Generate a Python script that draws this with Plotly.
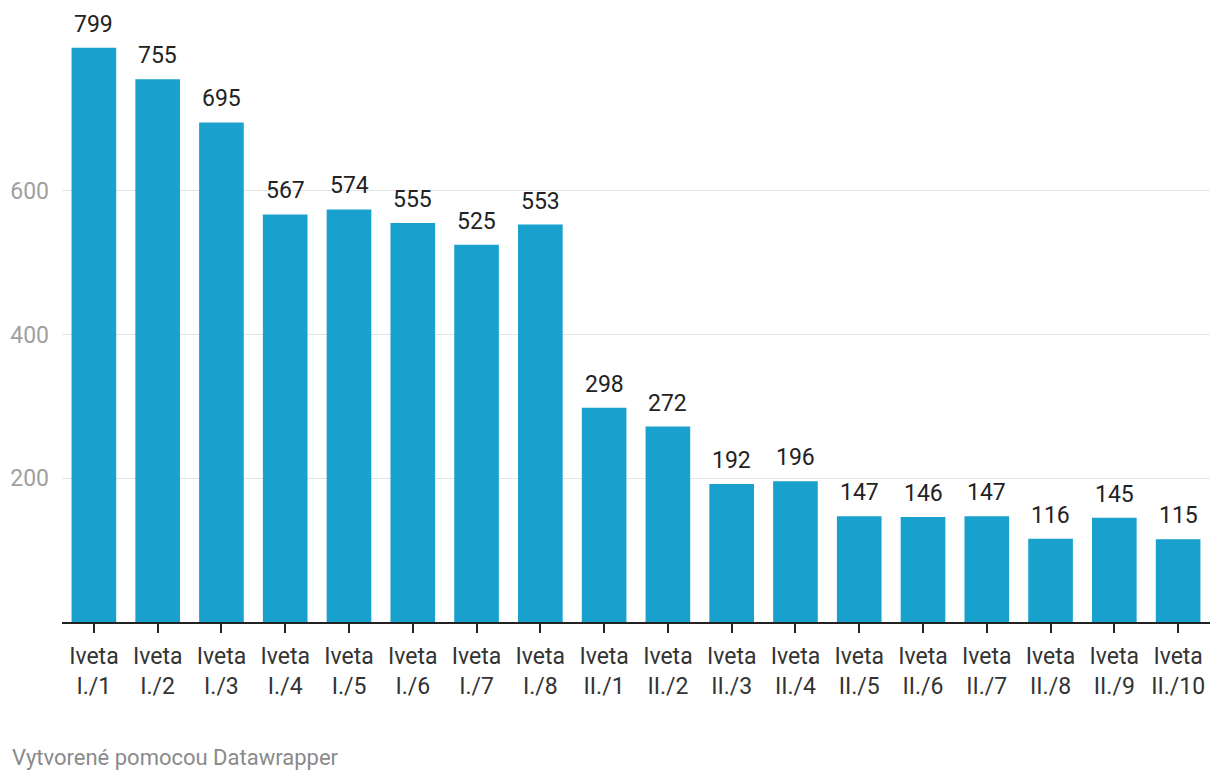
import plotly.graph_objects as go

groups = ["I.", "I.", "I.", "I.", "I.", "I.", "I.", "I.",
          "II.", "II.", "II.", "II.", "II.", "II.", "II.", "II.", "II.", "II."]
numbers = [1, 2, 3, 4, 5, 6, 7, 8, 1, 2, 3, 4, 5, 6, 7, 8, 9, 10]
values = [799, 755, 695, 567, 574, 555, 525, 553, 298, 272, 192, 196, 147, 146, 147, 116, 145, 115]
categories = [f"Iveta<br>{g}/{n}" for g, n in zip(groups, numbers)]
y_ticks = [200, 400, 600]

W, H = 1220, 780
L, R, T, B = 62, 10, 47, 158

fig = go.Figure(go.Bar(
    x=categories, y=values,
    marker=dict(color="#18a1cd", line=dict(width=0)),
    hoverinfo="x+y",
))

annotations = [dict(
    x=c, y=v, xref="x", yref="y", text=str(v), showarrow=False,
    yanchor="bottom", yshift=8,
    font=dict(family="Roboto", size=23, color="#222222"),
) for c, v in zip(categories, values)]

annotations.append(dict(
    text="Vytvorené pomocou Datawrapper",
    x=(10 - L) / (W - L - R), y=(H - B - 757) / (H - T - B),
    xref="paper", yref="paper", showarrow=False, xanchor="left", yanchor="middle",
    font=dict(family="Roboto", size=22, color="#8a8a8a"),
))

fig.update_layout(
    width=W, height=H,
    margin=dict(l=L, r=R, t=T, b=B, autoexpand=False),
    paper_bgcolor="white", plot_bgcolor="white",
    bargap=0.3, showlegend=False,
    font=dict(family="Roboto", size=23, color="#333333"),
    xaxis=dict(
        showgrid=False, showline=True, linecolor="#222222", linewidth=2,
        ticks="outside", ticklen=9, tickwidth=2, tickcolor="#222222",
        tickfont=dict(family="Roboto", size=23, color="#333333"),
        ticklabelstandoff=3,
    ),
    yaxis=dict(
        range=[0, 800], tickvals=y_ticks, showgrid=True, gridcolor="#e3e3e3", gridwidth=1,
        zeroline=False, showline=False, ticks="",
        tickfont=dict(family="Roboto", size=23, color="#a0a0a0"),
        ticklabelstandoff=12,
    ),
    annotations=annotations,
)

fig.write_html("out.html", config={"displayModeBar": False},
               post_script="document.body.style.margin='0';document.body.style.overflow='hidden';")
